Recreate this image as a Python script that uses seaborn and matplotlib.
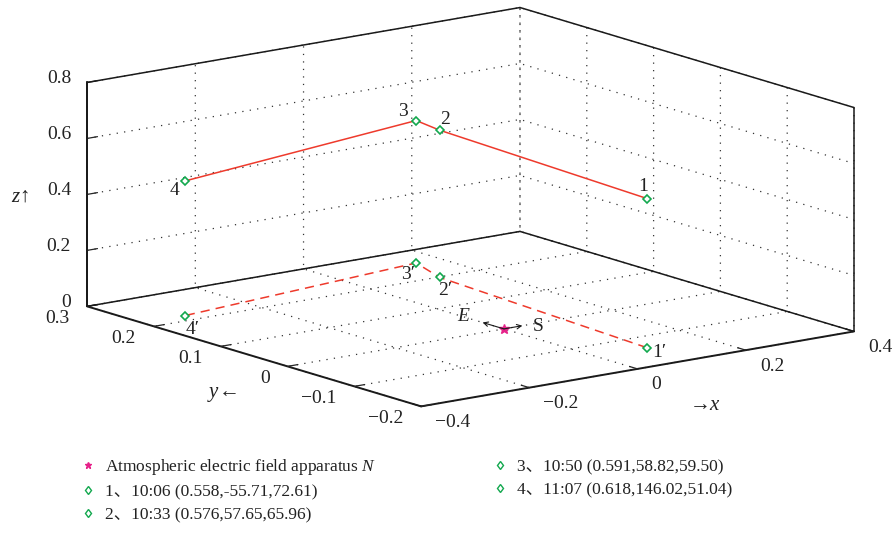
import numpy as np
import matplotlib
matplotlib.use("Agg")
import matplotlib.pyplot as plt
import seaborn as sns
from matplotlib.lines import Line2D
from matplotlib.ticker import NullFormatter
from mpl_toolkits.mplot3d import proj3d

sns.set_theme(style="white")
plt.rcParams['font.family'] = ['Liberation Serif', 'Noto Sans CJK SC']
plt.rcParams['mathtext.fontset'] = 'custom'
plt.rcParams['mathtext.rm'] = 'Liberation Serif'
plt.rcParams['mathtext.it'] = 'Liberation Serif:italic'

# ---- data ----
point_ids = ['1', '2', '3', '4']
times = ['10:06', '10:33', '10:50', '11:07']
dist_km = [0.558, 0.576, 0.591, 0.618]
azim_deg = [-55.71, 57.65, 58.82, 146.02]
elev_deg = [72.61, 65.96, 59.50, 51.04]

# positions of the points (km)
px = [0.094, 0.126, 0.155, -0.322]
py = [-0.138, 0.198, 0.257, 0.217]
pz = [0.533, 0.526, 0.509, 0.481]

# field apparatus N and the E / S direction arrows
station = (0.0, 0.0, 0.0)
arrow_dx = [0.0, 0.034]
arrow_dy = [0.032, 0.0]

x_ticks = [-0.4, -0.2, 0, 0.2, 0.4]
y_ticks = [-0.2, -0.1, 0, 0.1, 0.2, 0.3]
z_ticks = [0, 0.2, 0.4, 0.6, 0.8]

RED = '#ee3a2c'
GREEN = '#12a84e'
MAGENTA = '#e6228a'
INK = '#222222'


def tick_text(v):
    s = '0' if abs(v) < 1e-9 else f"{v:g}"
    return s.replace('-', '\u2212')


# ---- figure ----
W, H = 895, 548
fig = plt.figure(figsize=(W / 100, H / 100), dpi=100)
S = 840
ax = fig.add_axes([39.2 / W, -90.3 / H, S / W, S / H], projection='3d')
ax.set_proj_type('ortho')
ax.view_init(elev=13.16, azim=-127.25)
ax.set_box_aspect((544, 552, 230), zoom=0.934)

x0, x1 = x_ticks[0], x_ticks[-1]
y0, y1 = y_ticks[0], y_ticks[-1]
z0, z1 = z_ticks[0], z_ticks[-1]
ax.set_xlim(x0, x1)
ax.set_ylim(y0, y1)
ax.set_zlim(z0, z1)
ax.set_xticks(x_ticks)
ax.set_yticks(y_ticks)
ax.set_zticks(z_ticks)

for axis in (ax.xaxis, ax.yaxis, ax.zaxis):
    axis.set_major_formatter(NullFormatter())
    axis.offsetText.set_visible(False)
    axis.label.set_visible(False)
    axis.set_pane_color((1, 1, 1, 0))
    axis.line.set_color('k')
    axis.line.set_linewidth(1.4)
    axis._axinfo['grid'].update(color='#333333', linestyle=(0, (1, 5)), linewidth=0.9)
    axis._axinfo['tick'].update(inward_factor=0.0, outward_factor=0.3)
    axis._axinfo['tick']['linewidth'] = {True: 0.9, False: 0.5}
ax.title.set_visible(False)

# outer box edges (MATLAB-like box)
box = [
    ([x0, x1], [y1, y1], [z0, z0]),
    ([x1, x1], [y0, y1], [z0, z0]),
    ([x0, x0], [y1, y1], [z0, z1]),
    ([x1, x1], [y0, y0], [z0, z1]),
    ([x0, x1], [y1, y1], [z1, z1]),
    ([x1, x1], [y0, y1], [z1, z1]),
]
for bx, by, bz in box:
    ax.plot(bx, by, bz, color='k', lw=1.1)

# lines and markers
floor = np.zeros(len(px))
ax.plot(px, py, pz, color=RED, lw=1.1)
ax.plot(px, py, floor, color=RED, lw=1.1, ls=(0, (6, 4)))
ax.plot(px, py, pz, ls='none', marker='D', ms=3.6, mfc='white', mec=GREEN, mew=1.2)
ax.plot(px, py, floor, ls='none', marker='D', ms=3.6, mfc='white', mec=GREEN, mew=1.2)

M = ax.get_proj()


def proj(x, y, z):
    sx, sy, _ = proj3d.proj_transform(x, y, z, M)
    return sx, sy


def put(x, y, z, s, off, ha='center', size=14, **kw):
    ax.annotate(s, proj(x, y, z), xytext=off, textcoords='offset pixels',
                ha=ha, va='center', fontsize=size, color=INK, annotation_clip=False, **kw)


# E / S arrows at the apparatus
for dx, dy in zip(arrow_dx, arrow_dy):
    ax.annotate('', xy=proj(station[0] + dx, station[1] + dy, station[2]),
                xytext=proj(*station),
                arrowprops=dict(arrowstyle='->', lw=0.8, color='k',
                                shrinkA=0, shrinkB=0, mutation_scale=8))
ax.plot([station[0]], [station[1]], [station[2]], ls='none', marker='*', ms=7, color=MAGENTA)
put(0, 0.06, 0, '$E$', (0, 0))
put(0.048, -0.012, 0, 'S', (0, 0))

# tick labels placed MATLAB style
for v in x_ticks:
    put(v, y0, z0, tick_text(v), (14, -16), ha='left')
for v in y_ticks:
    put(x0, v, z0, tick_text(v), (-18, -12), ha='right')
for v in z_ticks:
    put(x0, y1, v, tick_text(v), (-16, 4), ha='right')

# point labels
label_off = [(-4, 12), (5, 11), (-13, 9), (-10, -9)]
floor_off = [(12, -5), (5, -13), (-8, -12), (8, -14)]
for i, pid in enumerate(point_ids):
    put(px[i], py[i], pz[i], pid, label_off[i])
    put(px[i], py[i], 0, pid + '\u2032', floor_off[i])

# axis labels
fig.text(20 / W, 1 - 197 / H, '$z$\u2191', ha='center', va='center', fontsize=15, color=INK)
fig.text(222 / W, 1 - 394 / H, '$y$\u2190', ha='center', va='center', fontsize=15, color=INK)
fig.text(705 / W, 1 - 405 / H, '\u2192$x$', ha='center', va='center', fontsize=15, color=INK)

# legend
handles = [Line2D([], [], ls='none', marker='*', ms=5, color=MAGENTA)]
labels = ['Atmospheric electric field apparatus $N$']
for i, pid in enumerate(point_ids):
    handles.append(Line2D([], [], ls='none', marker='d', ms=4.5, mfc='none', mec=GREEN, mew=1.0))
    labels.append(f"{pid}\u3001{times[i]} ({dist_km[i]:.3f},{azim_deg[i]:.2f},{elev_deg[i]:.2f})")
leg = fig.legend(handles, labels, loc='upper left', bbox_to_anchor=(79.3 / W, 1 - 457 / H),
                 ncol=2, frameon=False, fontsize=12.5, handlelength=1.0, handletextpad=0.5,
                 columnspacing=6.6, labelspacing=0.41, borderpad=0, borderaxespad=0)
for t in leg.get_texts():
    t.set_color(INK)

fig.savefig('out.png', dpi=100)
